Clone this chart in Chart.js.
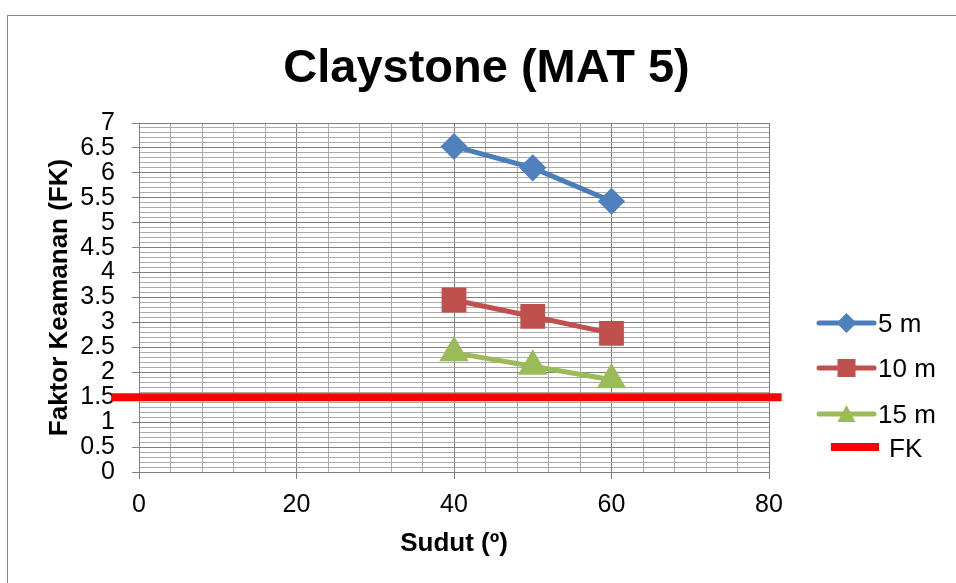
<!DOCTYPE html>
<html><head><meta charset="utf-8">
<script src="https://cdn.jsdelivr.net/npm/chart.js@4.4.1/dist/chart.umd.min.js"></script>
<style>html,body{margin:0;padding:0;background:#fff;overflow:hidden}#wrap{width:956px;height:583px;position:relative}</style>
</head><body><div id="wrap"><canvas id="c" width="956" height="583"></canvas></div>
<script>
// ---- data ----
const chartTitle = 'Claystone (MAT 5)';
const xAxisTitle = 'Sudut (º)';
const yAxisTitle = 'Faktor Keamanan (FK)';
const seriesNames = ['5 m', '10 m', '15 m', 'FK'];
const angles = [40, 50, 60];
const fk5m = [6.53, 6.10, 5.43];
const fk10m = [3.45, 3.12, 2.78];
const fk15m = [2.39, 2.12, 1.85];
const fkLimitX = [-3.5, 81.6];
const fkLimitY = [1.5, 1.5];
const xTickLabels = ['0', '20', '40', '60', '80'];
const yTickLabels = ['0','0.5','1','1.5','2','2.5','3','3.5','4','4.5','5','5.5','6','6.5','7'];

// ---- styling ----
const FONT = "'Liberation Sans', Arial, sans-serif";
const MAJOR = '#808080', MINOR = '#aaaaaa';
Chart.defaults.font.family = FONT;
Chart.defaults.color = '#000';

const pts = (xs, ys) => xs.map((x, i) => ({x: x, y: ys[i]}));
const isMajorX = v => xTickLabels.includes(String(Math.round(v * 100) / 100));
const isMajorY = v => yTickLabels.includes(String(Math.round(v * 100) / 100));

const frame = {
  id: 'frame',
  beforeDraw(chart) {
    const ctx = chart.ctx;
    ctx.save();
    ctx.fillStyle = '#fff';
    ctx.fillRect(0, 0, chart.width, chart.height);
    ctx.strokeStyle = '#8a8a8a';
    ctx.lineWidth = 1;
    ctx.strokeRect(7.5, 15.5, 1200, 1200);
    ctx.restore();
  },
  afterDraw(chart) {
    const ctx = chart.ctx;
    ctx.save();
    // title
    ctx.fillStyle = '#000';
    ctx.font = 'bold 47px ' + FONT;
    ctx.textAlign = 'center';
    ctx.textBaseline = 'alphabetic';
    ctx.fillText(chartTitle, 486.5, 82);
    // legend
    const rows = [323, 368, 414, 447];
    const ds = chart.data.datasets;
    for (let i = 0; i < 3; i++) {
      const d = ds[i], y = rows[i];
      ctx.strokeStyle = d.borderColor;
      ctx.lineWidth = 5;
      ctx.lineCap = 'round';
      ctx.beginPath(); ctx.moveTo(819, y); ctx.lineTo(874, y); ctx.stroke();
      ctx.fillStyle = d.pointBackgroundColor;
      const cx = 846.5;
      ctx.beginPath();
      if (d.pointStyle === 'rectRot') {
        const r = 10;
        ctx.moveTo(cx, y - r); ctx.lineTo(cx + r, y); ctx.lineTo(cx, y + r); ctx.lineTo(cx - r, y); ctx.closePath();
      } else if (d.pointStyle === 'rect') {
        const h = 9;
        ctx.rect(cx - h, y - h, 2 * h, 2 * h);
      } else {
        ctx.moveTo(cx, y - 9); ctx.lineTo(cx + 9, y + 8); ctx.lineTo(cx - 9, y + 8); ctx.closePath();
      }
      ctx.fill();
      ctx.fillStyle = '#000';
      ctx.font = '26px ' + FONT;
      ctx.textAlign = 'left';
      ctx.textBaseline = 'middle';
      ctx.fillText(d.label, 878, y + 2);
    }
    const f = ds[3];
    ctx.fillStyle = f.borderColor;
    ctx.fillRect(831, rows[3] - 4, 48, 8);
    ctx.fillStyle = '#000';
    ctx.font = '26px ' + FONT;
    ctx.textAlign = 'left';
    ctx.textBaseline = 'middle';
    ctx.fillText(f.label, 889, rows[3] + 3);
    ctx.restore();
  }
};

new Chart(document.getElementById('c'), {
  type: 'line',
  data: {
    datasets: [
      {label: seriesNames[0], data: pts(angles, fk5m), borderColor: '#4a7ebb', backgroundColor: '#4f81bd',
       pointBackgroundColor: '#4f81bd', pointBorderColor: '#4f81bd', pointStyle: 'rectRot', pointRadius: 10, borderWidth: 5},
      {label: seriesNames[1], data: pts(angles, fk10m), borderColor: '#c0504d', backgroundColor: '#c0504d',
       pointBackgroundColor: '#c0504d', pointBorderColor: '#c0504d', pointStyle: 'rect', pointRadius: 14, borderWidth: 5},
      {label: seriesNames[2], data: pts(angles, fk15m), borderColor: '#9bbb59', backgroundColor: '#9bbb59',
       pointBackgroundColor: '#9bbb59', pointBorderColor: '#9bbb59', pointStyle: 'triangle', pointRadius: 12, borderWidth: 5},
      {label: seriesNames[3], data: pts(fkLimitX, fkLimitY), borderColor: '#ff0000', backgroundColor: '#ff0000',
       pointBackgroundColor: '#ff0000', pointRadius: 0, borderWidth: 8, clip: false}
    ]
  },
  options: {
    responsive: false,
    animation: false,
    events: [],
    devicePixelRatio: 1,
    layout: {padding: {left: 0, right: 187, top: 123, bottom: 0}},
    elements: {line: {tension: 0, borderCapStyle: 'butt'}, point: {borderWidth: 1}},
    plugins: {legend: {display: false}, title: {display: false}, tooltip: {enabled: false}},
    scales: {
      x: {
        type: 'linear', min: 0, max: 80,
        afterFit(s) { s.height = 111; },
        ticks: {stepSize: 4, autoSkip: false, maxRotation: 0, padding: 11,
                font: {size: 25},
                callback: v => isMajorX(v) ? String(Math.round(v)) : ''},
        grid: {color: c => isMajorX(c.tick.value) ? MAJOR : MINOR, lineWidth: 1,
               drawTicks: true, tickLength: 7,
               tickColor: c => isMajorX(c.tick.value) ? MAJOR : 'rgba(0,0,0,0)'},
        border: {display: true, color: MAJOR, width: 1},
        title: {display: true, text: xAxisTitle, font: {size: 26, weight: 'bold'}, padding: {top: 0, bottom: 24}}
      },
      y: {
        type: 'linear', min: 0, max: 7,
        afterFit(s) { s.width = 139; },
        ticks: {stepSize: 0.1, autoSkip: false, padding: 17,
                font: {size: 25},
                callback: v => isMajorY(v) ? String(Math.round(v * 100) / 100) : ''},
        grid: {color: c => isMajorY(c.tick.value) ? MAJOR : MINOR, lineWidth: 1,
               drawTicks: true, tickLength: 7,
               tickColor: c => isMajorY(c.tick.value) ? MAJOR : 'rgba(0,0,0,0)'},
        border: {display: true, color: MAJOR, width: 1},
        title: {display: true, text: yAxisTitle, font: {size: 26, weight: 'bold'}, padding: {top: 44, bottom: 0}}
      }
    }
  },
  plugins: [frame]
});
</script>
</body></html>
